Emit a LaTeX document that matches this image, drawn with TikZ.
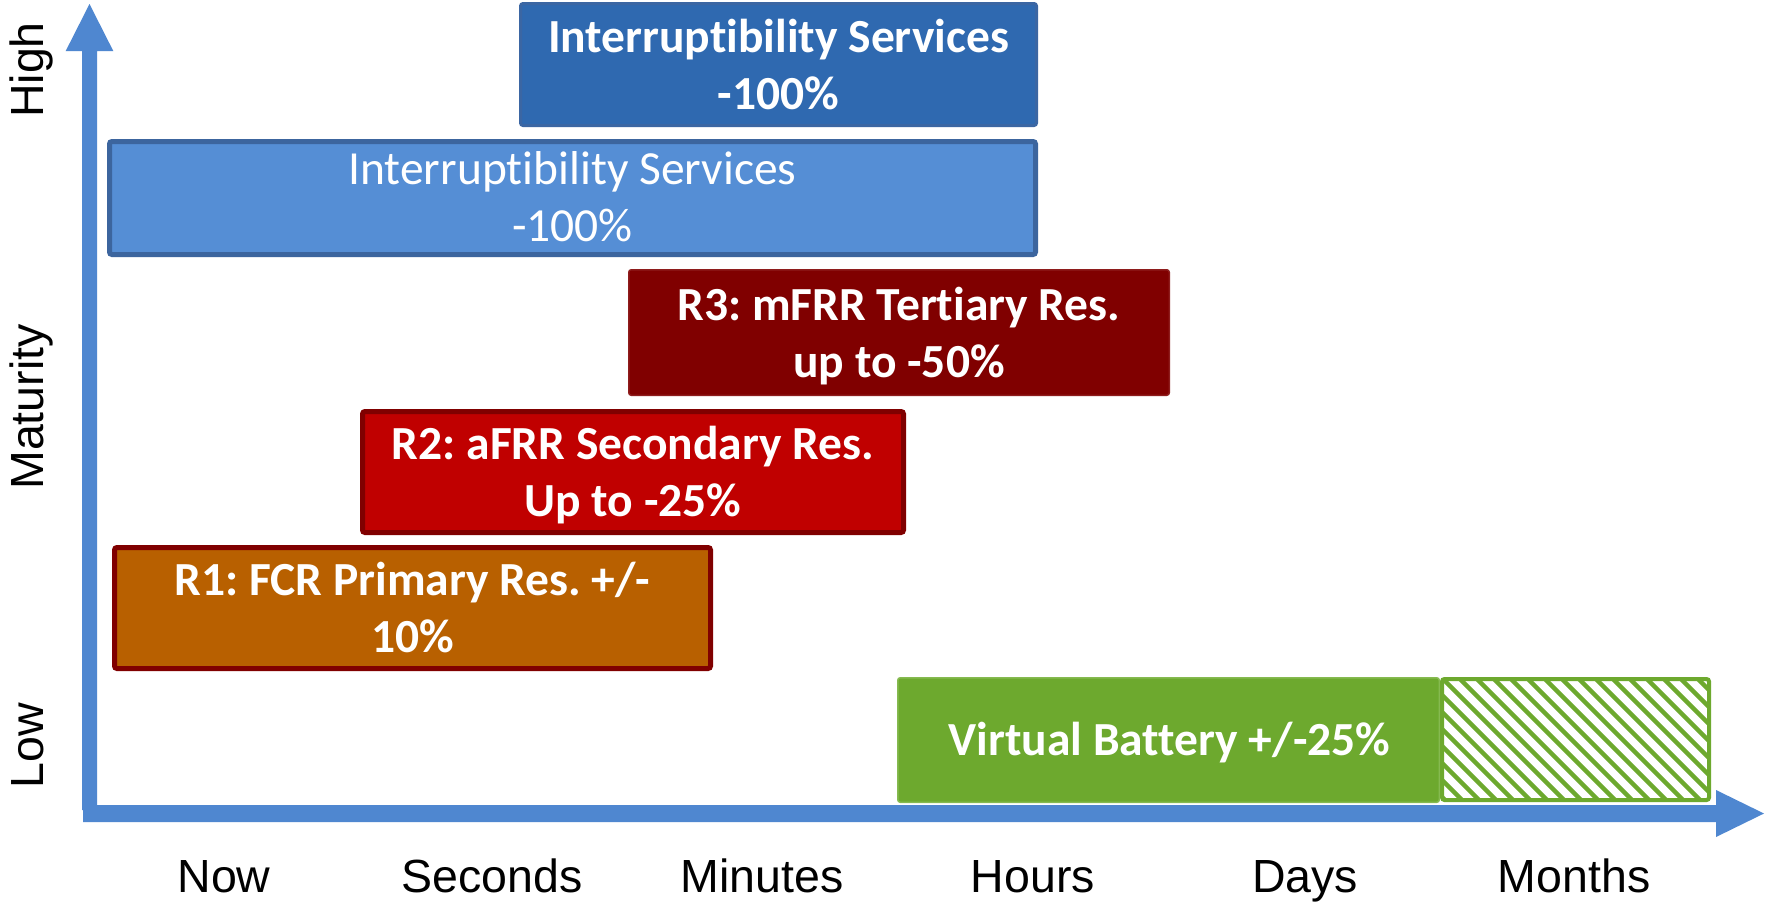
\documentclass[tikz,border=0pt]{standalone}
\usepackage{fontspec}
\setmainfont{Liberation Sans}
\newfontfamily\calib[Ligatures={NoCommon}]{Carlito}
\definecolor{axisblue}{HTML}{4F87D0}
\definecolor{darkblue}{HTML}{2F69B0}
\definecolor{darkblueedge}{HTML}{3B66A3}
\definecolor{lightblue}{HTML}{558ED5}
\definecolor{lightblueedge}{HTML}{3C659E}
\definecolor{maroonfill}{HTML}{800000}
\definecolor{maroonedge}{HTML}{8E1C1C}
\definecolor{redfill}{HTML}{C00000}
\definecolor{orangefill}{HTML}{B86000}
\definecolor{greenfill}{HTML}{6DA92E}
\definecolor{greenedge}{HTML}{86BA50}
\frenchspacing
\begin{document}
\begin{tikzpicture}[x=1pt,y=-1pt,
  boxshape/.style={draw, rounded corners=2.5pt, inner sep=0pt},
  boxtext/.style={text=white, align=center, inner sep=0pt, font=\calib\bfseries\fontsize{47.5}{57}\selectfont},
  boxtextlight/.style={text=white, align=center, inner sep=0pt, font=\calib\fontsize{47.5}{57}\selectfont},
  axislabel/.style={font=\fontsize{46.5}{55}\selectfont, anchor=base, inner sep=0pt, text=black}]
\fill[white] (0,0) rectangle (1766,905);
\useasboundingbox (0,0) rectangle (1766,905);

% axes
\coordinate (O) at (89.5,813.5);
\coordinate (ytip) at (89.5,4);
\coordinate (xtip) at (1764,813.5);
\fill[axisblue] (82,810) -- (82,51) -- (65.7,51) -- (ytip) -- (113.3,51) -- (97,51) -- (97,810) -- cycle;
\fill[axisblue] (83,805) -- (1716,805) -- (1716,790) -- (xtip) -- (1716,837) -- (1716,822) -- (83,822) -- cycle;

% boxes
\node[boxshape, draw=darkblueedge, fill=darkblue, line width=3pt, minimum width=516pt, minimum height=122pt] (ib) at (778.5,64.5) {};
\node[boxtext] (ibt) at (778.5,69.1) {\strut Interruptibility Services\\\strut -100\%};

\node[boxshape, draw=lightblueedge, fill=lightblue, line width=5pt, minimum width=926pt, minimum height=113pt] (ls) at (572.5,198) {};
\node[boxtextlight] (lst) at (572.5,201.1) {\strut Interruptibility Services\\\strut -100\%};

\node[boxshape, draw=maroonedge, fill=maroonfill, line width=1.5pt, minimum width=540.5pt, minimum height=125.5pt] (r3) at (899,332.5) {};
\node[boxtext] (r3t) at (899,337.1) {\strut R3: mFRR Tertiary Res.\\\strut up to -50\%};

\node[boxshape, draw=maroonfill, fill=redfill, line width=5pt, minimum width=541pt, minimum height=121pt] (r2) at (633,472) {};
\node[boxtext] (r2t) at (633,476.1) {\strut R2: aFRR Secondary Res.\\\strut Up to -25\%};

\node[boxshape, draw=maroonfill, fill=orangefill, line width=5pt, minimum width=596pt, minimum height=121pt] (r1) at (412.5,608) {};
\node[boxtext] (r1t) at (412.5,612.1) {\strut R1: FCR Primary Res. +/-\\\strut 10\%};

\node[boxshape, draw=greenedge, fill=greenfill, line width=1.5pt, minimum width=541.5pt, minimum height=124.5pt] (vb) at (1168.5,740) {};
\node[boxtext, anchor=base] (vbt) at (1169.5,755) {Virtual Battery +/-25\%};

% hatched extension
\fill[white] (1440,677) rectangle (1711,802);
\begin{scope}
\clip (1442,679) rectangle (1709,800);
\foreach \i in {0,...,32} \draw[greenfill, line width=4.5pt] ({1300+\i*17},672) -- ++(140,140);
\end{scope}
\node[boxshape, draw=greenfill, line width=4pt, minimum width=267pt, minimum height=121pt] (vbh) at (1575.5,739.5) {};

% axis labels
\node[axislabel] (now) at (224,892) {Now};
\node[axislabel] (sec) at (492,892) {Seconds};
\node[axislabel] (min) at (762,892) {Minutes};
\node[axislabel] (hrs) at (1033,892) {Hours};
\node[axislabel] (days) at (1305,892) {Days};
\node[axislabel] (mon) at (1574,892) {Months};

\node[axislabel, rotate=90] (high) at (43,70) {High};
\node[axislabel, rotate=90] (mat) at (43,407) {Maturity};
\node[axislabel, rotate=90] (low) at (43,745.5) {Low};
\end{tikzpicture}
\end{document}
